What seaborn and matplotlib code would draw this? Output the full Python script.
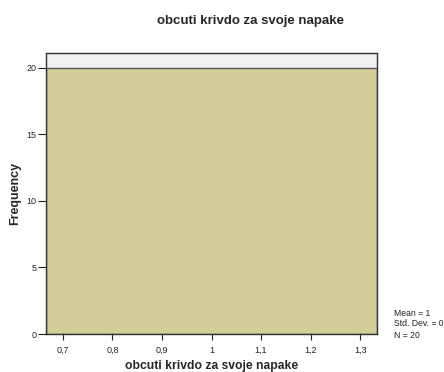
import matplotlib
matplotlib.use("Agg")
import matplotlib.pyplot as plt
import seaborn as sns

# Data
values = [1.0]
counts = [20]
x_ticks = [0.7, 0.8, 0.9, 1.0, 1.1, 1.2, 1.3]
x_tick_labels = ["0,7", "0,8", "0,9", "1", "1,1", "1,2", "1,3"]
y_ticks = [0, 5, 10, 15, 20]
stats_lines = ["Mean = 1", "Std. Dev. = 0", "N = 20"]
title = "obcuti krivdo za svoje napake"

sns.set_style("white")
plt.rcParams["font.family"] = ["Liberation Sans", "DejaVu Sans"]

fig = plt.figure(figsize=(4.44, 3.72), dpi=100)
ax = fig.add_axes([46 / 444, 1 - 334 / 372, (377 - 46) / 444, (334 - 53) / 372])
ax.set_facecolor("#f0f0f0")

xlo, xhi = 0.666, 1.334
sns.histplot(x=values, weights=counts, bins=1, binrange=(xlo, xhi),
             color="#d3ce98", alpha=1, edgecolor="#555555", linewidth=1.0, ax=ax)

ax.set_xlim(xlo, xhi)
ax.set_ylim(0, 21.1)
ax.set_xticks(x_ticks)
ax.set_xticklabels(x_tick_labels)
ax.set_yticks(y_ticks)
ax.tick_params(axis="both", direction="out", width=0.8,
               labelsize=6.5, colors="#222222", bottom=True, left=True)
ax.tick_params(axis="x", length=4.5, pad=4)
ax.tick_params(axis="y", length=6, pad=1)
for s in ax.spines.values():
    s.set_color("#333333")
    s.set_linewidth(1.0)

ax.set_xlabel(title, fontsize=8.7, fontweight="bold", labelpad=4)
ax.set_ylabel("Frequency", fontsize=9, fontweight="bold", labelpad=4)
fig.text(250 / 444, 1 - 21 / 372, title, ha="center", va="center",
         fontsize=9.5, fontweight="bold")

for i, line in enumerate(stats_lines):
    fig.text(394 / 444, 1 - (313 + 11 * i) / 372, line, ha="left", va="center",
             fontsize=6.2, color="#222222")

fig.savefig("out.png", dpi=100)
